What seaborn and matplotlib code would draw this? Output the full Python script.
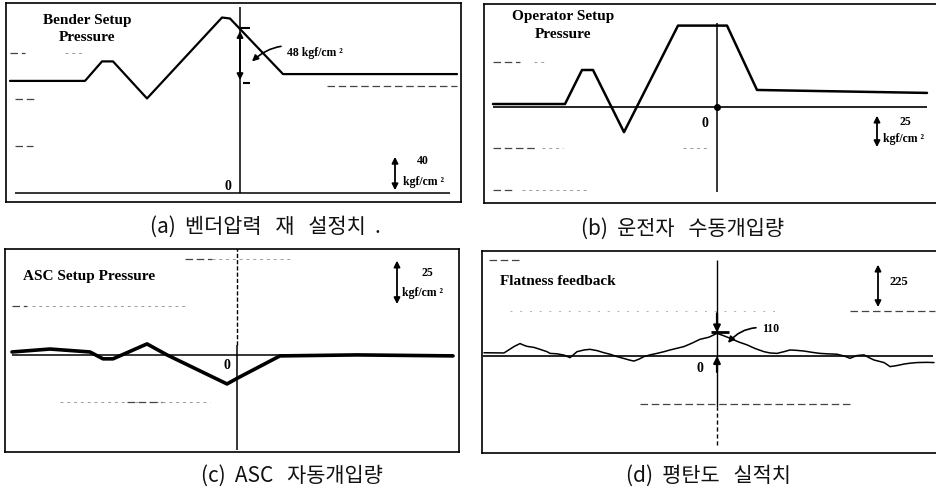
import matplotlib
matplotlib.use("Agg")
import matplotlib.pyplot as plt
import seaborn as sns
import numpy as np

# ---------------- data ----------------
# (a) Bender setup pressure [kgf/cm^2] vs time (0 = event)
a_time = [-230, -155, -138, -127, -93, -18, -10, 43, 217]
a_press = [115, 115, 135, 135, 97, 180, 179, 122, 122]

# (b) Operator setup pressure [kgf/cm^2]
b_time = [-224, -152, -135, -124, -93, -39, 10, 40, 210]
b_press = [2, 2, 25, 25, -17, 55, 55, 11.5, 9.5]

# (c) ASC setup pressure [kgf/cm^2]
c_time = [-225, -187, -147, -134, -124, -90, -70, -10, 1, 43, 120, 216]
c_press = [1.5, 3, 1.5, -2, -2, 5.6, 0, -14.8, -11.7, -0.5, 0, -0.5]

# (d) Flatness feedback
d_time = [-233, -213, -203, -197, -193, -190, -183, -177, -170, -167, -160, -153,
          -147, -140, -133, -127, -120, -113, -107, -100, -93, -87, -83, -78, -73,
          -67, -60, -53, -47, -40, -33, -25, -17, -8, 0, 6, 13, 22, 30, 38, 47, 53,
          60, 67, 73, 80, 87, 95, 103, 110, 120, 127, 133, 140, 147, 152, 157, 162,
          167, 170, 173, 180, 187, 193, 200, 210, 217]
d_flat = [15, 14, 44, 58, 50, 45, 40, 31, 20, 12, 10, 4,
          -8, 20, 28, 31, 25, 15, 8, -3, -12, -20, -24, -15, -3,
          5, 12, 20, 28, 36, 44, 60, 78, 88, 106, 96, 83, 65, 52, 35, 20, 14,
          12, 20, 28, 26, 23, 17, 12, 10, 8, 0, -11, 2, 5, -8, -19, -25,
          -31, -40, -50, -45, -38, -34, -31, -30, -31]

titles = ["Bender Setup\nPressure", "Operator Setup\nPressure",
          "ASC Setup Pressure", "Flatness feedback"]
captions = ["(a)  벤더압력   재   설정치  .", "(b)  운전자   수동개입량",
            "(c)  ASC   자동개입량", "(d)  평탄도   실적치"]

# ---------------- figure ----------------
sns.set_style("white")
plt.rcParams['font.family'] = ['Liberation Serif', 'DejaVu Sans']

W, H = 937, 494
fig = plt.figure(figsize=(W / 100, H / 100), dpi=100)


def rect(x0, y0, x1, y1):
    return [x0 / W, 1 - y1 / H, (x1 - x0) / W, (y1 - y0) / H]


def style(ax, right=True):
    ax.set_xticks([])
    ax.set_yticks([])
    ax.set_xlabel("")
    ax.set_ylabel("")
    for s in ax.spines.values():
        s.set_color("black")
        s.set_linewidth(1.2)
    if not right:
        ax.spines["right"].set_visible(False)


B = dict(fontweight="bold", color="black")
GRID = dict(color="#9a9a9a", lw=0.7, linestyles=(0, (3, 4)))
GRID2 = dict(color="#444444", lw=0.9, linestyles=(0, (6, 3)))

# ---------- (a) ----------
axa = fig.add_axes(rect(6, 3, 461, 202))
axa.set_xlim(-234, 221)
axa.set_ylim(-9.2, 194.9)
axa.hlines([110], 87, 217, **GRID2)
axa.hlines([143.6], -230, -215, **GRID2)
axa.hlines([143.6], -175, -155, **GRID)
axa.hlines([96.4], -225, -203, **GRID2)
axa.hlines([48], -225, -207, **GRID2)
axa.hlines(0, -225, 210, color="black", lw=1.1)
axa.vlines(0, 0, 191, color="black", lw=1.1)
sns.lineplot(x=a_time, y=a_press, ax=axa, color="black", lw=1.6,
             sort=False, estimator=None)
axa.annotate("", xy=(0, 169), xytext=(0, 113),
             arrowprops=dict(arrowstyle="<|-|>", color="black", lw=1.3, mutation_scale=9))
axa.hlines(169, 0, 10, color="black", lw=1.5)
axa.hlines(113, 3, 10, color="black", lw=1.5)
axa.annotate("48 kgf/cm ²", xy=(12, 135), xytext=(47, 143.6), ha="left", va="center",
             fontsize=8.5, **B,
             arrowprops=dict(arrowstyle="-|>", color="black", lw=1.2,
                             connectionstyle="arc3,rad=0.35", mutation_scale=9,
                             shrinkA=2, shrinkB=0))
axa.annotate("", xy=(155, 0), xytext=(155, 40),
             arrowprops=dict(arrowstyle="<|-|>", color="black", lw=1.3, mutation_scale=9))
axa.text(183, 32.8, "40", ha="center", va="center", fontsize=8.5, **B)
axa.text(184, 11.3, "kgf/cm ²", ha="center", va="center", fontsize=8.5, **B)
axa.text(-12, 7, "0", ha="center", va="center", fontsize=10, **B)
axa.text(-153, 168, titles[0], ha="center", va="center", fontsize=11,
         linespacing=1.45, **B)
style(axa)

# ---------- (b) ----------
axb = fig.add_axes(rect(484, 4, 937, 203))
axb.set_xlim(-233, 220)
axb.set_ylim(-64.9, 69.6)
axb.hlines([30.4], -224, -197, **GRID2)
axb.hlines([30.4], -183, -170, **GRID)
axb.hlines([-27.7], -224, -180, **GRID2)
axb.hlines([-27.7], -175, -154, **GRID)
axb.hlines([-27.7], -34, -7, **GRID)
axb.hlines([-56], -224, -205, **GRID2)
axb.hlines([-56], -195, -127, **GRID)
axb.hlines(0, -224, 210, color="black", lw=1.2)
axb.vlines(0, -57.4, 56.8, color="black", lw=1.1)
axb.plot([0], [0], marker="o", ms=4, color="black")
sns.lineplot(x=b_time, y=b_press, ax=axb, color="black", lw=1.8,
             sort=False, estimator=None)
axb.annotate("", xy=(160, -29), xytext=(160, -4),
             arrowprops=dict(arrowstyle="<|-|>", color="black", lw=1.3, mutation_scale=9))
axb.text(188, -10, "25", ha="center", va="center", fontsize=8.5, **B)
axb.text(187, -21.5, "kgf/cm ²", ha="center", va="center", fontsize=8.5, **B)
axb.text(-12, -11, "0", ha="center", va="center", fontsize=10, **B)
axb.text(-154, 55, titles[1], ha="center", va="center", fontsize=11,
         linespacing=1.45, **B)
style(axb, right=False)

# ---------- (c) ----------
axc = fig.add_axes(rect(5, 249, 459, 452))
axc.set_xlim(-232, 222)
axc.set_ylim(-49.5, 54)
axc.hlines([49], -52, -25, **GRID2)
axc.hlines([49], -25, 53, **GRID)
axc.hlines([25], -225, -210, **GRID2)
axc.hlines([25], -205, -52, **GRID)
axc.hlines([-24], -177, -27, **GRID)
axc.hlines([-24], -110, -75, **GRID2)
axc.hlines(0, -225, 216, color="black", lw=1.1)
axc.vlines(0, 5, 54, color="black", lw=1.0, linestyles=(0, (3, 1.5)))
axc.vlines(0, -48.5, 5, color="black", lw=1.1)
sns.lineplot(x=c_time, y=c_press, ax=axc, color="black", lw=2.6,
             sort=False, estimator=None)
axc.annotate("", xy=(160, 24.5), xytext=(160, 49.5),
             arrowprops=dict(arrowstyle="<|-|>", color="black", lw=1.3, mutation_scale=9))
axc.text(190, 42, "25", ha="center", va="center", fontsize=8.5, **B)
axc.text(186, 31.6, "kgf/cm ²", ha="center", va="center", fontsize=8.5, **B)
axc.text(-10, -5.6, "0", ha="center", va="center", fontsize=10, **B)
axc.text(-214, 40, titles[2], ha="left", va="center", fontsize=11, **B)
style(axc)

# ---------- (d) ----------
axd = fig.add_axes(rect(482, 251, 937, 453))
axd.set_xlim(-235, 220)
axd.set_ylim(-455, 492)
axd.hlines([211], 133, 218, **GRID2)
axd.hlines([211], -207, 63, color="#b0b0b0", lw=0.7, linestyles=(0, (2, 8)))
axd.hlines([-225], -77, 136, **GRID2)
axd.hlines([450], -228, -195, **GRID2)
axd.hlines(0, -234, 216, color="black", lw=1.2)
axd.vlines(0, -239, 450, color="black", lw=1.0)
axd.vlines(0, -417, -239, color="black", lw=1.0, linestyles=(0, (3, 2)))
sns.lineplot(x=d_time, y=d_flat, ax=axd, color="black", lw=1.1,
             sort=False, estimator=None)
axd.annotate("", xy=(0, 110), xytext=(0, 200),
             arrowprops=dict(arrowstyle="-|>", color="black", lw=1.6, mutation_scale=10,
                             shrinkA=0, shrinkB=0))
axd.annotate("", xy=(0, 0), xytext=(0, -75),
             arrowprops=dict(arrowstyle="-|>", color="black", lw=1.6, mutation_scale=10,
                             shrinkA=0, shrinkB=0))
axd.hlines(110, -6, 12, color="black", lw=2)
axd.annotate("110", xy=(11, 61), xytext=(45, 127), ha="left", va="center",
             fontsize=8.5, **B,
             arrowprops=dict(arrowstyle="-|>", color="black", lw=1.2,
                             connectionstyle="arc3,rad=0.3", mutation_scale=9,
                             shrinkA=2, shrinkB=0))
axd.annotate("", xy=(161, 216), xytext=(161, 441),
             arrowprops=dict(arrowstyle="<|-|>", color="black", lw=1.3, mutation_scale=9))
axd.text(172, 347, "225", ha="left", va="center", fontsize=9, **B)
axd.text(-17, -61, "0", ha="center", va="center", fontsize=10, **B)
axd.text(-217, 347, titles[3], ha="left", va="center", fontsize=11, **B)
style(axd, right=False)

# ---------- captions ----------
cap_pos = [(265, 227), (683, 229), (292, 476), (708, 476)]
for txt, (cx, cy) in zip(captions, cap_pos):
    fig.text(cx / W, 1 - cy / H, txt, ha="center", va="center", fontsize=15,
             family=["Noto Sans CJK KR", "DejaVu Sans"], color="#111111")

fig.savefig("out.png", dpi=100)
